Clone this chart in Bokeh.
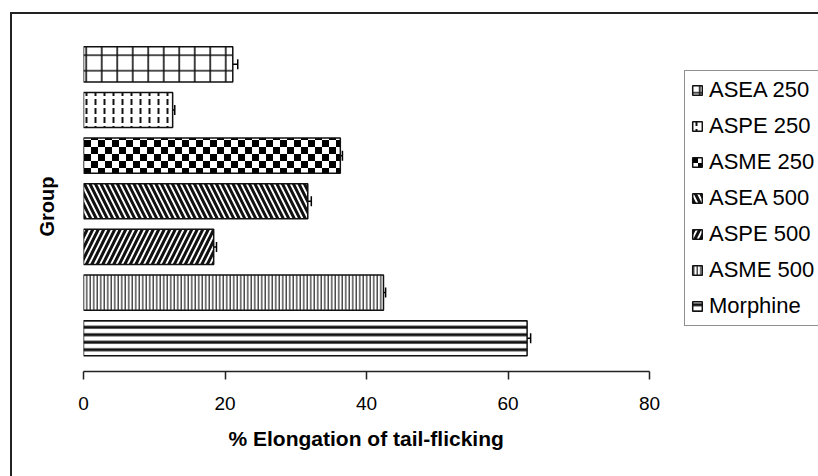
from bokeh.plotting import figure
from bokeh.models import (ColumnDataSource, Whisker, TeeHead, Legend, LegendItem,
                          FixedTicker, ImageURLTexture, Range1d, InlineStyleSheet, Title)
from bokeh.embed import file_html
from bokeh.resources import INLINE

# ---- data (top bar first) ----
groups = ["ASEA 250", "ASPE 250", "ASME 250", "ASEA 500", "ASPE 500", "ASME 500", "Morphine"]
values = [21.1, 12.6, 36.3, 31.7, 18.4, 42.4, 62.7]
errors = [0.7, 0.3, 0.3, 0.5, 0.4, 0.3, 0.5]
x_ticks = [0, 20, 40, 60, 80]
x_title = "% Elongation of tail-flicking"
y_title = "Group"

# ---- styles ----
patterns = ["cross", "vertical_dash", "checker", "left_diagonal_line",
            "right_diagonal_line", "vertical_line", "horizontal_line"]
hscales = [15.5, 9, 14, 11, 11, 3.5, 7.5]
hweights = [1.6, 2, 1, 3, 3, 1.2, 3]
hcolors = ["#111", "#111", "#000", "#111", "#111", "#222", "#111"]

n = len(groups)
ypos = [n - 1 - i for i in range(n)]

src = ColumnDataSource(dict(
    group=groups, y=ypos, value=values,
    lower=[v - e for v, e in zip(values, errors)],
    upper=[v + e for v, e in zip(values, errors)],
    pattern=patterns, hscale=hscales, hweight=hweights, hcolor=hcolors,
))

# frame spans to the right edge so that the legend (drawn inside it) is not clipped;
# the axis itself is bounded to 0..80
x_end = x_ticks[-1] * 735 / 566
p = figure(width=818, height=476, output_backend="svg", toolbar_location=None,
           x_range=Range1d(0, x_end), y_range=Range1d(-0.728, 6.5),
           min_border_left=83, min_border_right=0, min_border_top=41, min_border_bottom=105)
p.outline_line_color = None
p.grid.visible = False
p.background_fill_color = "white"
p.border_fill_color = "white"

# outer chart border (top and left edges visible in the reference)
p.stylesheets = [InlineStyleSheet(css=(
    ":host::after{content:'';position:absolute;left:10px;top:12px;"
    "width:900px;height:600px;border:2px solid #222;pointer-events:none;box-sizing:border-box;}"
    ":host{overflow:hidden;}"))]

checker_svg = ("data:image/svg+xml;utf8,"
               "<svg xmlns='http://www.w3.org/2000/svg' width='14' height='14'>"
               "<rect width='14' height='14' fill='white'/>"
               "<rect width='7' height='7' fill='black'/>"
               "<rect x='7' y='7' width='7' height='7' fill='black'/></svg>")

bars = p.hbar(y="y", right="value", left=0, height=0.77, source=src,
              fill_color="white", line_color="#111", line_width=1.5,
              hatch_pattern="pattern", hatch_scale="hscale", hatch_weight="hweight",
              hatch_color="hcolor",
              hatch_extra={"checker": ImageURLTexture(url=checker_svg, repetition="repeat")})

wh = Whisker(base="y", lower="lower", upper="upper", dimension="width", source=src,
             line_color="black", line_width=1.5,
             upper_head=TeeHead(size=10, line_width=1.5, line_color="black"),
             lower_head=TeeHead(size=10, line_width=1.5, line_color="black"))
p.add_layout(wh)

# x axis
xa = p.xaxis[0]
xa.ticker = FixedTicker(ticks=x_ticks)
xa.bounds = (x_ticks[0], x_ticks[-1])
xa.axis_line_color = "#222"
xa.axis_line_width = 1.5
xa.major_tick_line_color = "#222"
xa.major_tick_line_width = 1.5
xa.major_tick_in = 0
xa.major_tick_out = 8
xa.minor_tick_line_color = None
xa.major_label_standoff = 17
xa.major_label_text_font = "Liberation Sans"
xa.major_label_text_font_size = "19px"
xa.major_label_text_color = "black"

# x title centred under the 0..80 part of the axis
p.add_layout(Title(text=x_title, align="left", offset=145, standoff=25,
                   text_font="Liberation Sans", text_font_size="21px",
                   text_font_style="bold", text_color="black"), "below")

# y axis (label only)
ya = p.yaxis[0]
ya.ticker = FixedTicker(ticks=[])
ya.axis_line_color = None
ya.major_tick_line_color = None
ya.minor_tick_line_color = None
ya.major_tick_out = 0
ya.major_label_standoff = 0
ya.axis_label = y_title
ya.axis_label_text_font = "Liberation Sans"
ya.axis_label_text_font_size = "20px"
ya.axis_label_text_font_style = "bold"
ya.axis_label_text_color = "black"
ya.axis_label_standoff = 26

items = [LegendItem(label=g, renderers=[bars], index=i) for i, g in enumerate(groups)]
legend = Legend(items=items, location=(601, 45), orientation="vertical",
                label_text_font="Liberation Sans", label_text_font_size="22px",
                label_text_color="black", label_height=22, label_standoff=6,
                glyph_height=12, glyph_width=12, spacing=10, padding=6, margin=0,
                border_line_color="#222", border_line_width=1.5,
                background_fill_color="white", background_fill_alpha=1)
p.add_layout(legend)

open("out.html", "w").write(file_html(p, INLINE))
